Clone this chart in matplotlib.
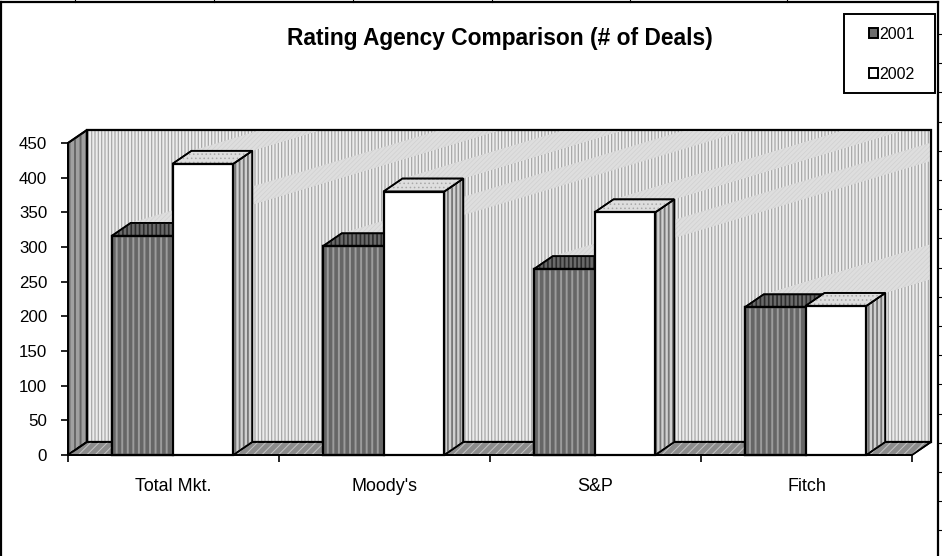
import matplotlib
matplotlib.use("Agg")
import matplotlib.pyplot as plt
from matplotlib.patches import Polygon, Rectangle, Patch
from matplotlib.lines import Line2D

categories = ["Total Mkt.", "Moody's", "S&P", "Fitch"]
years = ["2001", "2002"]
values_2001 = [316, 301, 268, 213]
values_2002 = [420, 380, 350, 215]
y_ticks = list(range(0, 451, 50))

W, H = 942, 556
plt.rcParams["font.family"] = ["Liberation Sans", "DejaVu Sans"]
fig = plt.figure(figsize=(W / 100, H / 100), dpi=100, facecolor="white")
X0, X1, Y0, Y1 = 68, 912, 455, 143
ax = fig.add_axes([X0 / W, 1 - Y0 / H, (X1 - X0) / W, (Y0 - Y1) / H])
ax.set_xlim(0, 4)
ax.set_ylim(0, 450)
ax.patch.set_visible(False)

PX = 4 / (X1 - X0)          # data units per pixel, x
PY = 450 / (Y0 - Y1)        # data units per pixel, y
DX, DY = 19 * PX, 13 * PY   # 3D depth offset
BW = 0.288                  # bar width
GAP = (1 - 2 * BW) / 2 - PX


def face(pts, fc, hatch=None, hc="#555555", hlw=1.0, lw=1.2, ec="black", z=2):
    p = Polygon(pts, closed=True, facecolor=fc, edgecolor=ec, lw=lw, zorder=z,
                clip_on=False, joinstyle="miter")
    ax.add_patch(p)
    if hatch:
        h = Polygon(pts, closed=True, facecolor="none", edgecolor=hc, lw=0, hatch=hatch,
                    zorder=z, clip_on=False)
        h.set_hatch_linewidth(hlw)
        ax.add_patch(h)
        o = Polygon(pts, closed=True, facecolor="none", edgecolor=ec, lw=lw, zorder=z,
                    clip_on=False, joinstyle="miter")
        ax.add_patch(o)
    return p


# back wall, side wall, floor
wall = [(DX, DY), (4 + DX, DY), (4 + DX, 450 + DY), (DX, 450 + DY)]
face(wall, "#ececec", hatch="|" * 5, hc="#a8a8a8", hlw=0.9, lw=1.5, z=1)
face([(0, 0), (DX, DY), (DX, 450 + DY), (0, 450)], "#a0a0a0", hatch="|" * 3,
     hc="#666666", hlw=1.4, lw=1.4, z=1.2)
face([(0, 0), (4, 0), (4 + DX, DY), (DX, DY)], "#8c8c8c", hatch="/" * 4,
     hc="#c4c4c4", hlw=0.7, lw=1.2, z=1.2)

# pale light-streak bands on the wall behind each bar top
slope_v_per_cat = 0.3 * (1 / PX) * PY
wall_clip = Polygon(wall, closed=True, transform=ax.transData)
for i in range(len(categories)):
    for j, vals in enumerate([values_2001, values_2002]):
        xl = i + GAP + j * BW + DX
        xr = xl + BW
        yt = vals[i] + DY
        run = 4.5
        band = Polygon([(xl, yt), (xr, yt), (xr + run, yt + run * slope_v_per_cat),
                        (xl + run, yt + run * slope_v_per_cat)], closed=True,
                       facecolor="#dedede", edgecolor="#d0d0d0", lw=0, hatch="/" * 7,
                       zorder=1.1)
        band.set_hatch_linewidth(0.5)
        ax.add_patch(band)
        band.set_clip_box(fig.bbox)
        band.set_clip_path(wall_clip)
# wall outline back on top of the bands
ax.add_patch(Polygon(wall, closed=True, facecolor="none", edgecolor="black", lw=1.5,
                     zorder=1.15, clip_on=False, joinstyle="miter"))

# bars, back to front
STY = [
    dict(front=("#9c9c9c", "|||", "#666666", 2.6),
         top=("#6a6a6a", "||||", "#2e2e2e", 1.2),
         side=("#9a9a9a", "||||", "#666666", 1.2)),
    dict(front=("white", None, None, 0),
         top=("#dedede", "....", "#a8a8a8", 0.6),
         side=("#d0d0d0", "||||", "#777777", 1.3)),
]
for i in range(len(categories)):
    for j, vals in enumerate([values_2001, values_2002]):
        s = STY[j]
        x = i + GAP + j * BW
        v = vals[i]
        z = 3 + i + j * 0.1
        fc, ha, hc, hl = s["side"]
        face([(x + BW, 0), (x + BW + DX, DY), (x + BW + DX, v + DY), (x + BW, v)],
             fc, ha, hc, hl, z=z)
        fc, ha, hc, hl = s["top"]
        face([(x, v), (x + BW, v), (x + BW + DX, v + DY), (x + DX, v + DY)],
             fc, ha, hc, hl, z=z)
        fc, ha, hc, hl = s["front"]
        face([(x, 0), (x + BW, 0), (x + BW, v), (x, v)], fc, ha, hc, hl, lw=1.6, z=z + 0.05)

# axes
for k in ("top", "right"):
    ax.spines[k].set_visible(False)
for k in ("left", "bottom"):
    ax.spines[k].set_linewidth(1.2)
    ax.spines[k].set_zorder(20)
ax.set_yticks(y_ticks)
ax.set_yticklabels([str(t) for t in y_ticks])
ax.set_xticks(range(5))
ax.set_xticklabels([])
ax.set_xticks([i + 0.5 for i in range(4)], categories, minor=True)
ax.tick_params(axis="y", length=5, width=1.2, labelsize=12.2, pad=10)
ax.tick_params(axis="x", which="major", length=5, width=1.2)
ax.tick_params(axis="x", which="minor", length=0, labelsize=12.9, pad=16.5)

fig.text(500 / W, 1 - 38 / H, "Rating Agency Comparison (# of Deals)", ha="center", va="center",
         fontsize=16.4, fontweight="bold")

# legend box
fig.add_artist(Rectangle((844 / W, 1 - 93 / H), 91 / W, 79 / H, transform=fig.transFigure,
                         facecolor="white", edgecolor="black", lw=1.4))
handles = [Patch(facecolor="#6e6e6e", edgecolor="black", lw=1.4),
           Patch(facecolor="white", edgecolor="black", lw=1.4)]
leg = fig.legend(handles, years, loc="upper left", bbox_to_anchor=(864 / W, 1 - 22 / H),
                 frameon=False, fontsize=11.5, handlelength=0.55, handleheight=0.62,
                 handletextpad=0.1, labelspacing=1.55, borderpad=0.3, borderaxespad=0)

# sheet frame and the clipped gridline stubs outside it
line = dict(color="black", transform=fig.transFigure)
fig.add_artist(Line2D([1 / W, 1 / W], [0, 1 - 2 / H], lw=1.6, **line))
fig.add_artist(Line2D([1 / W, 938 / W], [1 - 2 / H, 1 - 2 / H], lw=1.6, **line))
fig.add_artist(Line2D([938 / W, 938 / W], [0, 1 - 2 / H], lw=1.6, **line))
for k in range(18):
    y = 34 + 29.2 * k
    fig.add_artist(Line2D([938 / W, 942 / W], [1 - y / H, 1 - y / H], lw=0.8, **line))
for x in (75, 214, 353, 492, 630, 787):
    fig.add_artist(Line2D([x / W, x / W], [1 - 2 / H, 1], lw=0.8, **line))

fig.savefig("out.png", dpi=100)
